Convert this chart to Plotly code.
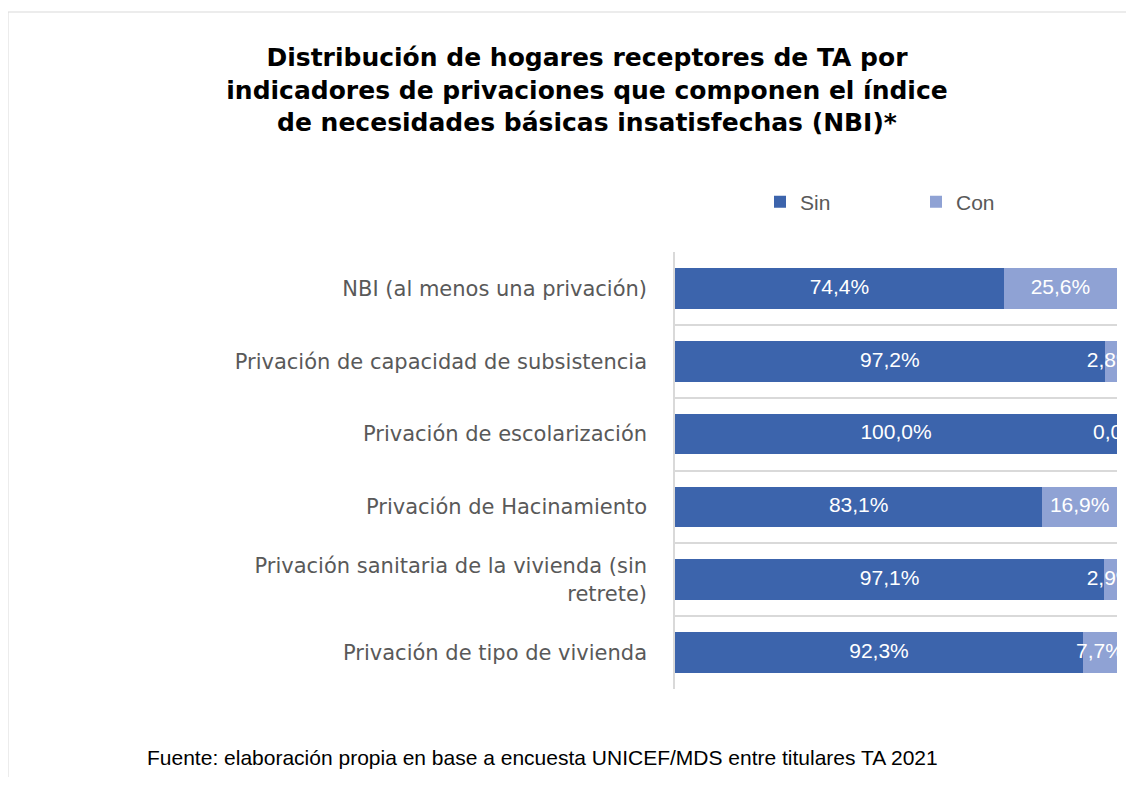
import plotly.graph_objects as go

categories = [
    "NBI (al menos una privación)",
    "Privación de capacidad de subsistencia",
    "Privación de escolarización",
    "Privación de Hacinamiento",
    "Privación sanitaria de la vivienda (sin<br>retrete)",
    "Privación de tipo de vivienda",
]
sin_values = [74.4, 97.2, 100.0, 83.1, 97.1, 92.3]
con_values = [25.6, 2.8, 0.0, 16.9, 2.9, 7.7]
series_names = ["Sin", "Con"]
colors = ["#3C64AC", "#8FA2D4"]

title_text = ("Distribución de hogares receptores de TA por<br>"
              "indicadores de privaciones que componen el índice<br>"
              "de necesidades básicas insatisfechas (NBI)*")
source_text = "Fuente: elaboración propia en base a encuesta UNICEF/MDS entre titulares TA 2021"

OFF = 8  # page body margin
W, H = 1134 - 2 * OFF, 785 - 2 * OFF
# plot area in screenshot pixels
L, R, T, B = 675, 1117, 252, 689


def px_x(px):
    return (px - L) / (R - L)


def px_y(py):
    return (B - py) / (B - T)


def fmt(v):
    return f"{v:.1f}%".replace(".", ",")


fig = go.Figure()
for name, vals, col in zip(series_names, [sin_values, con_values], colors):
    fig.add_trace(go.Bar(
        name=name, y=categories, x=vals, orientation="h",
        marker=dict(color=col, line=dict(width=0)),
        hoverinfo="x+y",
    ))

# data labels centred on each segment (clipped at the plot edge like the original)
label_font = dict(family="Liberation Sans, Arial", size=21, color="white")
fig.add_trace(go.Scatter(
    x=[v / 2 for v in sin_values], y=categories, mode="text",
    text=[fmt(v) for v in sin_values], textposition="middle center",
    textfont=label_font, showlegend=False, cliponaxis=True, hoverinfo="skip"))
fig.add_trace(go.Scatter(
    x=[s + c / 2 for s, c in zip(sin_values, con_values)], y=categories, mode="text",
    text=[fmt(v) for v in con_values], textposition="middle center",
    textfont=label_font, showlegend=False, cliponaxis=True, hoverinfo="skip"))

fig.update_layout(
    width=W, height=H,
    barmode="stack", bargap=0.44,
    separators=",.",
    paper_bgcolor="white", plot_bgcolor="white",
    margin=dict(l=L - OFF, r=W - (R - OFF), t=T - OFF, b=H - (B - OFF), autoexpand=False),
    title=dict(text=title_text, x=(587 - OFF) / W, xanchor="center", xref="container",
               y=1 - (66 - OFF) / H, yanchor="middle", yref="container",
               font=dict(family="DejaVu Sans, Liberation Sans", size=25, color="black", weight="bold")),
    legend=dict(orientation="h", x=px_x(760), xanchor="left", y=px_y(202), yanchor="middle",
                font=dict(family="Liberation Sans, Arial", size=21, color="#595959"),
                entrywidth=111, itemwidth=30, traceorder="normal"),
    xaxis=dict(range=[0, 100], showgrid=False, zeroline=False, showticklabels=False,
               showline=False, fixedrange=True),
    yaxis=dict(type="category", autorange="reversed", tickson="boundaries",
               showgrid=True, gridcolor="#D9D9D9", gridwidth=1.5,
               showline=True, linecolor="#D9D9D9", linewidth=1.5,
               ticks="", ticklabelstandoff=22,
               tickfont=dict(family="DejaVu Sans, Liberation Sans", size=21, color="#595959")),
    annotations=[dict(text=source_text, xref="paper", yref="paper",
                      x=px_x(145), xanchor="left", y=px_y(757), yanchor="middle",
                      showarrow=False,
                      font=dict(family="Liberation Sans, Arial", size=21, color="black"))],
    shapes=[dict(type="rect", xref="paper", yref="paper",
                 x0=px_x(8), x1=px_x(1160), y0=px_y(820), y1=px_y(12),
                 line=dict(color="#D9D9D9", width=1), fillcolor="rgba(0,0,0,0)", layer="below")],
)

fig.write_html("out.html")
